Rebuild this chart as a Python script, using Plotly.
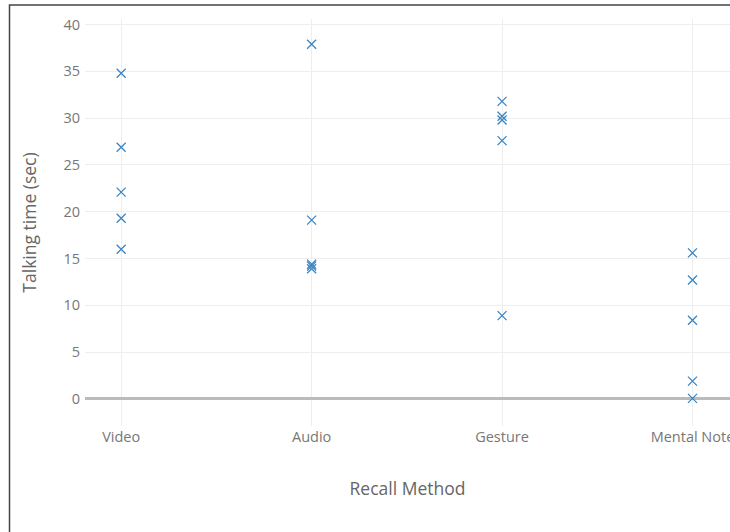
import plotly.graph_objects as go

categories = ["Video", "Audio", "Gesture", "Mental Note"]
video = [34.8, 26.9, 22.1, 19.3, 16.0]
audio = [37.9, 19.1, 14.4, 14.2, 13.9]
gesture = [31.8, 30.2, 29.8, 27.6, 8.9]
mental = [15.6, 12.7, 8.4, 1.9, 0.05]

xs, ys = [], []
for cat, vals in zip(categories, [video, audio, gesture, mental]):
    xs += [cat] * len(vals)
    ys += vals

fig = go.Figure(go.Scatter(
    x=xs, y=ys, mode="markers",
    marker=dict(symbol="x-thin-open", size=9, color="#3a86c4",
                line=dict(width=1.3, color="#3a86c4")),
    showlegend=False,
))

W, H = 730, 532
L, R, T, B = 85, 0, 19, 106
pw, ph = W - L - R, H - T - B
bx, by = 9.5, 5.0
px0 = (bx - L) / pw
py1 = 1 + (T - by) / ph

fig.update_layout(
    width=W, height=H,
    margin=dict(l=L, r=R, t=T, b=B, pad=0, autoexpand=False),
    paper_bgcolor="white", plot_bgcolor="white",
    font=dict(family="Open Sans, sans-serif", size=14, color="#666"),
    xaxis=dict(
        type="category", categoryorder="array", categoryarray=categories,
        range=[-0.19, 3.197], automargin=False,
        showgrid=True, gridcolor="#eeeeee", gridwidth=1,
        showline=False, zeroline=False, ticks="",
        title=dict(text="Recall Method", font=dict(size=17.5, color="#666"), standoff=38),
        tickfont=dict(size=14.5, color="#777"),
    ),
    yaxis=dict(
        range=[-2.9, 40.6], automargin=False,
        tickvals=[0, 5, 10, 15, 20, 25, 30, 35, 40],
        showgrid=True, gridcolor="#eeeeee", gridwidth=1,
        zeroline=True, zerolinecolor="#bbbbbb", zerolinewidth=2.5,
        showline=False, ticks="", ticklabelstandoff=4,
        title=dict(text="Talking time (sec)", font=dict(size=17.5, color="#666"), standoff=22),
        tickfont=dict(size=14.5, color="#777"),
    ),
    shapes=[
        dict(type="rect", xref="paper", yref="paper", x0=px0, x1=1.5, y0=-1, y1=py1,
             line=dict(color="#444", width=1.5), fillcolor="rgba(0,0,0,0)", layer="above"),
    ],
)

fig.write_html("out.html", config={"displayModeBar": False},
               post_script="document.body.style.margin='0px';document.body.style.overflow='hidden';")
